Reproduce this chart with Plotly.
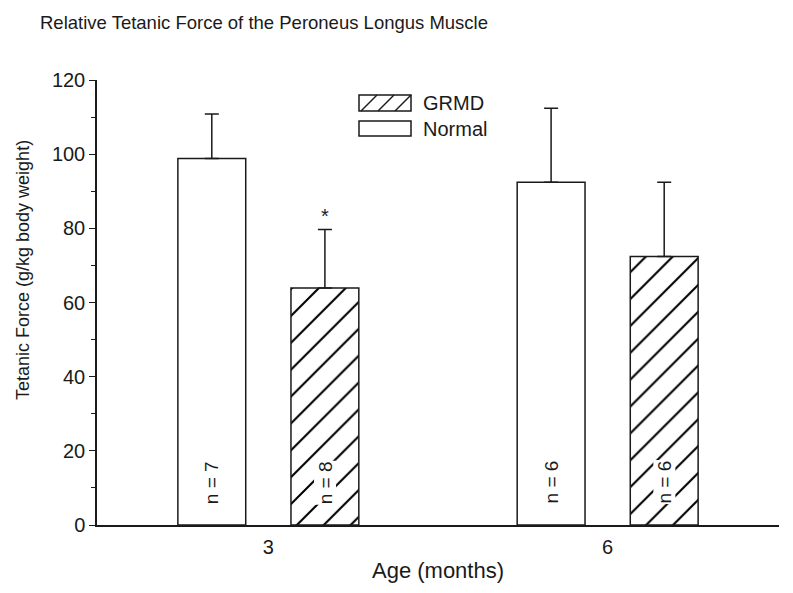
import plotly.graph_objects as go

# ---- data ----
ages = ["3", "6"]
x_pos = [0, 1]
normal_mean = [98.8, 92.4]
normal_err = [12.0, 20.0]
grmd_mean = [63.9, 72.4]
grmd_err = [15.8, 20.0]
normal_n = ["n = 7", "n = 6"]
grmd_n = ["n = 8", "n = 6"]
sig_marks = ["*", ""]

FONT = "Liberation Sans, Arial, sans-serif"
INK = "#1a1a1a"
BARGAP = 1 / 3
BARGROUPGAP = 0.4

fig = go.Figure()
fig.add_trace(go.Bar(
    name="Normal", x=x_pos, y=normal_mean,
    marker=dict(color="white", line=dict(color=INK, width=1.5)),
    error_y=dict(type="data", symmetric=False, array=normal_err,
                 arrayminus=[0, 0], color=INK, thickness=1.5, width=7),
    showlegend=False,
))
fig.add_trace(go.Bar(
    name="GRMD", x=x_pos, y=grmd_mean,
    marker=dict(color="white", line=dict(color=INK, width=1.5),
                pattern=dict(shape="/", fgcolor="#000000", fgopacity=1, bgcolor="white",
                             size=19, solidity=0.11)),
    error_y=dict(type="data", symmetric=False, array=grmd_err,
                 arrayminus=[0, 0], color=INK, thickness=1.5, width=7),
    showlegend=False,
))

off = (1 - BARGAP) / 4
annotations = []
for i, xc in enumerate(x_pos):
    annotations.append(dict(x=xc - off, y=11.5, text=normal_n[i], textangle=-90,
                            showarrow=False, font=dict(family=FONT, size=19, color=INK),
                            bgcolor="white", borderpad=0))
    annotations.append(dict(x=xc + off, y=11.5, text=grmd_n[i], textangle=-90,
                            showarrow=False, font=dict(family=FONT, size=19, color=INK),
                            bgcolor="white", borderpad=0))
    if sig_marks[i]:
        annotations.append(dict(x=xc + off, y=grmd_mean[i] + grmd_err[i], text=sig_marks[i],
                                showarrow=False, yshift=13,
                                font=dict(family=FONT, size=20, color=INK)))

# y-axis title
annotations.append(dict(xref="paper", yref="paper", x=(23 - 97) / (779 - 97), y=(525 - 270) / 445,
                        xanchor="center", yanchor="middle",
                        text="Tetanic Force (g/kg body weight)", textangle=-90,
                        showarrow=False, font=dict(family=FONT, size=18, color=INK)))

# custom legend
L, R, T, B = 97, 779, 80, 525
def px(xp):
    return (xp - L) / (R - L)
def py(yp):
    return (B - yp) / (B - T)

shapes = []
legend_items = [("GRMD", True, 95, 111), ("Normal", False, 121, 136)]
for label, hatched, y0, y1 in legend_items:
    shapes.append(dict(type="rect", xref="paper", yref="paper",
                       x0=px(359), x1=px(411), y0=py(y1), y1=py(y0),
                       line=dict(color=INK, width=1.5), fillcolor="white"))
    if hatched:
        for k in range(3):
            xs = 361 + 17 * k
            shapes.append(dict(type="line", xref="paper", yref="paper",
                               x0=px(xs), y0=py(y1), x1=px(xs + (y1 - y0)), y1=py(y0),
                               line=dict(color=INK, width=1.5)))
    annotations.append(dict(xref="paper", yref="paper", x=px(421), y=py((y0 + y1) / 2),
                            xanchor="left", yanchor="middle", text=label, showarrow=False,
                            font=dict(family=FONT, size=20, color=INK)))

fig.update_layout(
    width=793, height=593,
    margin=dict(l=97, r=14, t=80, b=68),
    paper_bgcolor="white", plot_bgcolor="white",
    barmode="group", bargap=BARGAP, bargroupgap=BARGROUPGAP,
    title=dict(text="Relative Tetanic Force of the Peroneus Longus Muscle",
               x=40 / 793, xanchor="left", y=1 - 23 / 593, yanchor="middle",
               font=dict(family=FONT, size=18.5, color=INK)),
    font=dict(family=FONT, color=INK),
    annotations=annotations,
    shapes=shapes,
    showlegend=False,
)
fig.update_xaxes(
    range=[-0.505, 1.505], tickvals=x_pos, ticktext=ages,
    showline=True, linecolor=INK, linewidth=1.5, ticks="outside", ticklen=3,
    tickcolor="rgba(0,0,0,0)", showgrid=False,
    zeroline=False, tickfont=dict(family=FONT, size=20, color=INK),
    title=dict(text="Age (months)", font=dict(family=FONT, size=22, color=INK), standoff=6),
)
fig.update_yaxes(
    range=[0, 120], dtick=20, tick0=0,
    showline=True, linecolor=INK, linewidth=1.5, ticks="outside", ticklen=6,
    tickwidth=1.2, tickcolor=INK, showgrid=False, zeroline=False,
    tickfont=dict(family=FONT, size=20, color=INK),
    minor=dict(ticks="outside", dtick=10, ticklen=4, tickwidth=1.2, tickcolor=INK),
)

fig.write_html("out.html", config={"displayModeBar": False},
               post_script="document.body.style.margin='0';")
